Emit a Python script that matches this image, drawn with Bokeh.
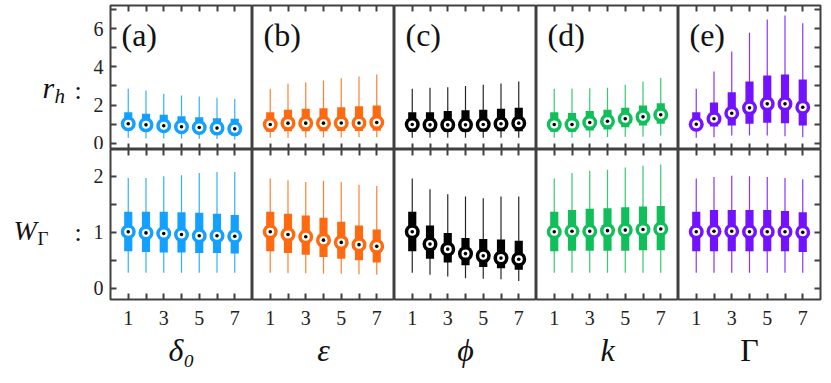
from bokeh.plotting import figure
from bokeh.layouts import column, row
from bokeh.models import LinearAxis, FixedTicker, Label
from bokeh.core.properties import value
from bokeh.embed import file_html
from bokeh.resources import INLINE

# ---------------- data ----------------
positions = [1, 2, 3, 4, 5, 6, 7]
x_ticks = [1, 2, 3, 4, 5, 6, 7]
x_tick_labels = ["1", "", "3", "", "5", "", "7"]
rh_ticks = [0, 1, 2, 3, 4, 5, 6, 7]
rh_tick_labels = ["0", "", "2", "", "4", "", "6", ""]
w_ticks = [0, 0.5, 1, 1.5, 2]
w_tick_labels = ["0", "", "1", "", "2"]
panel_tags = ["(a)", "(b)", "(c)", "(d)", "(e)"]
param_labels = ["δ₀", "ε", "ϕ", "k", "Γ"]
param_italic = [True, True, True, True, False]
colors = ["#13A0FF", "#FF6A10", "#000000", "#10BF5A", "#7312FF"]

# top row: r_h
rh_whi = [
    [2.85, 2.76, 2.59, 2.50, 2.45, 2.38, 2.32],
    [2.85, 3.11, 3.19, 3.28, 3.40, 3.49, 3.60],
    [2.85, 2.90, 2.93, 3.00, 3.06, 3.13, 3.23],
    [2.85, 2.85, 2.88, 2.90, 3.06, 3.23, 3.42],
    [2.85, 3.75, 4.80, 5.78, 6.48, 6.69, 6.28],
]
rh_q3 = [
    [1.62, 1.54, 1.49, 1.41, 1.36, 1.31, 1.28],
    [1.62, 1.75, 1.80, 1.83, 1.88, 1.94, 1.97],
    [1.62, 1.62, 1.68, 1.73, 1.75, 1.80, 1.85],
    [1.62, 1.58, 1.68, 1.75, 1.85, 1.97, 2.09],
    [1.62, 2.13, 2.67, 3.23, 3.54, 3.60, 3.34],
]
rh_med = [
    [1.02, 0.96, 0.91, 0.86, 0.82, 0.79, 0.75],
    [0.98, 1.05, 1.05, 1.05, 1.06, 1.06, 1.08],
    [0.98, 0.96, 0.96, 0.96, 0.98, 1.02, 1.05],
    [0.98, 0.98, 1.08, 1.15, 1.28, 1.38, 1.49],
    [0.99, 1.28, 1.57, 1.85, 2.06, 2.06, 1.88],
]
rh_q1 = [
    [0.68, 0.65, 0.62, 0.60, 0.57, 0.55, 0.53],
    [0.60, 0.63, 0.63, 0.63, 0.64, 0.64, 0.65],
    [0.60, 0.60, 0.60, 0.61, 0.61, 0.62, 0.63],
    [0.60, 0.60, 0.66, 0.72, 0.84, 0.93, 1.02],
    [0.68, 0.87, 0.93, 1.02, 1.07, 1.05, 0.93],
]
rh_wlo = [
    [0.28, 0.25, 0.25, 0.24, 0.23, 0.22, 0.20],
    [0.28, 0.29, 0.30, 0.30, 0.30, 0.31, 0.31],
    [0.28, 0.28, 0.28, 0.28, 0.28, 0.28, 0.28],
    [0.28, 0.28, 0.30, 0.32, 0.34, 0.34, 0.40],
    [0.28, 0.31, 0.40, 0.40, 0.40, 0.37, 0.31],
]

# bottom row: W_Gamma
w_whi = [
    [1.97, 1.97, 2.00, 2.02, 2.06, 2.08, 2.08],
    [1.96, 1.93, 1.90, 1.92, 1.90, 1.85, 1.83],
    [1.96, 1.77, 1.68, 1.64, 1.61, 1.64, 1.64],
    [1.96, 2.06, 2.10, 2.12, 2.16, 2.19, 2.21],
    [1.96, 1.99, 2.01, 2.00, 1.99, 1.97, 1.95],
]
w_q3 = [
    [1.37, 1.37, 1.37, 1.36, 1.35, 1.33, 1.31],
    [1.37, 1.33, 1.30, 1.26, 1.19, 1.12, 1.05],
    [1.37, 1.12, 0.99, 0.90, 0.88, 0.87, 0.85],
    [1.37, 1.40, 1.42, 1.43, 1.45, 1.46, 1.47],
    [1.37, 1.40, 1.40, 1.40, 1.40, 1.38, 1.36],
]
w_med = [
    [1.01, 0.99, 0.98, 0.96, 0.94, 0.94, 0.93],
    [1.01, 0.96, 0.92, 0.86, 0.82, 0.78, 0.75],
    [1.01, 0.79, 0.70, 0.62, 0.58, 0.54, 0.52],
    [1.01, 1.02, 1.02, 1.03, 1.04, 1.05, 1.06],
    [1.01, 1.02, 1.02, 1.01, 1.01, 1.01, 1.00],
]
w_q1 = [
    [0.66, 0.65, 0.64, 0.64, 0.63, 0.63, 0.62],
    [0.66, 0.63, 0.60, 0.56, 0.53, 0.50, 0.46],
    [0.66, 0.53, 0.46, 0.41, 0.38, 0.36, 0.33],
    [0.66, 0.67, 0.67, 0.67, 0.67, 0.68, 0.68],
    [0.66, 0.66, 0.66, 0.66, 0.66, 0.66, 0.65],
]
w_wlo = [
    [0.28, 0.28, 0.28, 0.28, 0.28, 0.28, 0.28],
    [0.28, 0.27, 0.27, 0.26, 0.26, 0.25, 0.24],
    [0.28, 0.24, 0.21, 0.18, 0.17, 0.16, 0.13],
    [0.28, 0.28, 0.28, 0.28, 0.28, 0.28, 0.28],
    [0.28, 0.28, 0.28, 0.28, 0.28, 0.28, 0.28],
]

# ---------------- style ----------------
FRAME = "#404040"
SERIF = "Liberation Serif"
RH_RANGE = (-0.33, 7.21)
W_RANGE = (-0.2, 2.48)
X_RANGE = (0, 8)
TOP_H, BOT_H = 144, 150
TOP_BORDER, BOT_BORDER = 5, 80
LAB_W = 90


def add_axis(p, side, ticks, labels, show_labels, fixed=None):
    ax = LinearAxis(ticker=FixedTicker(ticks=ticks),
                    major_tick_in=6, major_tick_out=0,
                    major_tick_line_color=FRAME, major_tick_line_width=2,
                    minor_tick_line_color=None, axis_line_color=None)
    if show_labels:
        ax.major_label_overrides = {t: l for t, l in zip(ticks, labels)}
        ax.major_label_text_font = SERIF
        ax.major_label_text_font_size = "20px"
        ax.major_label_text_color = "#222222"
        ax.major_label_standoff = 7 if side == "left" else 11
    else:
        ax.major_label_overrides = {t: "" for t in ticks}
        ax.major_label_text_font_size = "0px"
        ax.major_label_standoff = 0
    if fixed is not None:
        ax.fixed_location = fixed
    p.add_layout(ax, side)
    return ax


def make_panel(r, c):
    yr = RH_RANGE if r == 0 else W_RANGE
    p = figure(frame_width=142, frame_height=TOP_H if r == 0 else BOT_H,
               x_range=X_RANGE, y_range=yr,
               x_axis_location=None, y_axis_location=None,
               toolbar_location=None, output_backend="svg",
               min_border_left=(110 - LAB_W) if c == 0 else 0,
               min_border_right=2 if c == 4 else 0,
               min_border_top=TOP_BORDER if r == 0 else 0,
               min_border_bottom=BOT_BORDER if r == 1 else 0)
    p.grid.visible = False
    p.outline_line_color = FRAME
    p.outline_line_width = 2
    p.outline_line_alpha = 1.0
    p.background_fill_color = "white"
    p.border_fill_color = "white"

    yt, yl = (rh_ticks, rh_tick_labels) if r == 0 else (w_ticks, w_tick_labels)
    add_axis(p, "above", x_ticks, x_tick_labels, False, fixed=yr[1])
    if r == 1:
        ax = add_axis(p, "below", x_ticks, x_tick_labels, True)
        ax.axis_label = param_labels[c]
        ax.axis_label_text_font = SERIF
        ax.axis_label_text_font_size = "32px"
        ax.axis_label_text_font_style = "italic" if param_italic[c] else "normal"
        ax.axis_label_text_color = "#111111"
        ax.axis_label_standoff = 4
    else:
        add_axis(p, "below", x_ticks, x_tick_labels, False, fixed=yr[0])
    if c == 0:
        add_axis(p, "left", yt, yl, True)
    if c == 4:
        add_axis(p, "right", yt, yl, False, fixed=X_RANGE[1])

    whi, q3, med, q1, wlo = ((rh_whi, rh_q3, rh_med, rh_q1, rh_wlo) if r == 0
                             else (w_whi, w_q3, w_med, w_q1, w_wlo))
    col = colors[c]
    p.segment(x0=positions, y0=wlo[c], x1=positions, y1=whi[c],
              line_color=col, line_width=1.2, line_alpha=0.85)
    p.vbar(x=positions, width=0.46, bottom=q1[c], top=q3[c],
           fill_color=col, line_color=None)
    p.scatter(x=positions, y=med[c], size=15, marker="circle",
              fill_color=col, line_color=None)
    p.scatter(x=positions, y=med[c], size=8, marker="circle",
              fill_color="white", line_color=None)
    p.scatter(x=positions, y=med[c], size=3.6, marker="circle",
              fill_color="black", line_color=None)

    if r == 0:
        p.add_layout(Label(x=0.62, y=5.69, text=panel_tags[c], text_font=SERIF,
                           text_font_size="32px", text_color="#111111",
                           text_baseline="middle", text_align="left"))
    return p


def text_fig(h):
    p = figure(frame_width=LAB_W, frame_height=h, x_range=(0, LAB_W), y_range=(0, h),
               x_axis_location=None, y_axis_location=None,
               toolbar_location=None, output_backend="svg", min_border=0)
    p.grid.visible = False
    p.outline_line_color = None
    return p


def put(p, x, y, text, size, italic=True):
    p.text(x=[x], y=[y], text=[text], text_font=value(SERIF),
           text_font_size=size, text_font_style="italic" if italic else "normal",
           text_color="#111111", text_baseline="alphabetic", text_align="left")


top = [make_panel(0, c) for c in range(5)]
bot = [make_panel(1, c) for c in range(5)]

lab_top = text_fig(TOP_BORDER + TOP_H)
put(lab_top, 42, 67, "r", "30px")
put(lab_top, 54, 59, "h", "21px")
put(lab_top, 74, 64, ":", "26px", italic=False)

lab_bot = text_fig(BOT_H + BOT_BORDER)
put(lab_bot, 13, 149, "W", "28px")
put(lab_bot, 37, 141, "Γ", "19px", italic=False)
put(lab_bot, 74, 147, ":", "26px", italic=False)

layout = column(row(lab_top, *top, spacing=0), row(lab_bot, *bot, spacing=0), spacing=0)

open("out.html", "w").write(file_html(layout, INLINE))
